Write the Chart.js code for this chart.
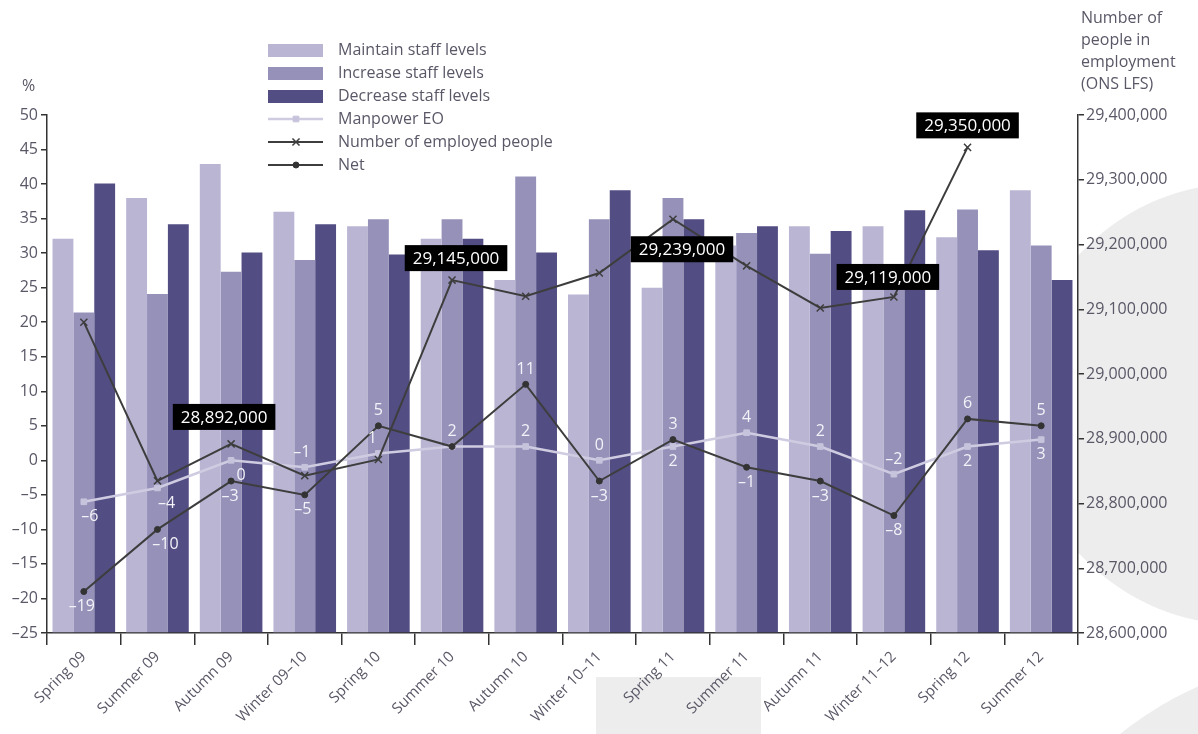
<!DOCTYPE html>
<html>
<head>
<meta charset="utf-8">
<script src="https://cdn.jsdelivr.net/npm/chart.js@4/dist/chart.umd.min.js"></script>
<style>
  html, body { margin: 0; padding: 0; background: #fff; }
  #wrap { width: 1198px; height: 734px; }
</style>
</head>
<body>
<div id="wrap"><canvas id="chart" width="1198" height="734"></canvas></div>
<script>
// survey seasons
const categories = ['Spring 09', 'Summer 09', 'Autumn 09', 'Winter 09–10', 'Spring 10', 'Summer 10', 'Autumn 10',
  'Winter 10–11', 'Spring 11', 'Summer 11', 'Autumn 11', 'Winter 11–12', 'Spring 12', 'Summer 12'];

// staffing intentions, % of employers
const maintain = [32.1, 38.0, 42.9, 36.0, 33.9, 32.1, 26.1, 24.0, 25.0, 31.1, 33.9, 33.9, 32.3, 39.1];
const increase = [21.4, 24.1, 27.3, 29.0, 34.9, 34.9, 41.1, 34.9, 38.0, 32.9, 29.9, 26.0, 36.3, 31.1];
const decrease = [40.1, 34.2, 30.1, 34.2, 29.8, 32.1, 30.1, 39.1, 34.9, 33.9, 33.2, 36.2, 30.4, 26.1];

// balances
const manpowerEO = [-6, -4, 0, -1, 1, 2, 2, 0, 2, 4, 2, -2, 2, 3];
const net = [-19, -10, -3, -5, 5, 2, 11, -3, 3, -1, -3, -8, 6, 5];

// ONS LFS, people in employment
const employed = [29080000, 28835000, 28892000, 28843000, 28868000, 29145000, 29120000,
  29156000, 29239000, 29167000, 29102000, 29119000, 29350000, null];

const leftTicks = { min: -25, max: 50, step: 5 };
const rightTicks = { min: 28600000, max: 29400000, step: 100000 };

// where the small value labels sit: 'a' above, 'b' below, '' none
const netLabelSide = ['b', 'b', 'b', 'b', 'a', 'a', 'a', 'b', 'a', 'b', 'b', 'b', 'a', 'a'];
const netLabelDx = [-2, 8, -1, -2, 0, 0, 0, 0, 0, 0, 0, 0, 0, 0];
const eoLabelSide = ['b', 'b', 'b', 'a', 'a', '', 'a', 'a', 'b', 'a', 'a', 'a', 'b', 'b'];
const eoLabelDx = [6, 9, 10, -3, -6, 0, 0, 0, 0, 0, 0, 0, 0, 0];

// black callout boxes on the employment line
const callouts = [
  { index: 2, dx: -7, dy: -27 },
  { index: 5, dx: 4, dy: -22 },
  { index: 8, dx: 9, dy: 30 },
  { index: 11, dx: -6, dy: -20 },
  { index: 12, dx: 0, dy: -22 }
];

const FONT = "'Open Sans', 'Noto Sans', sans-serif";
const TEXT = '#5b5767';
const AXIS = '#333333';
const dash = (v) => String(v).replace('-', '–');
const fmt = (v) => v.toLocaleString('en-US');

const decor = {
  id: 'decor',
  beforeDraw(chart) {
    const { ctx, chartArea } = chart;
    ctx.save();
    ctx.fillStyle = '#ffffff';
    ctx.fillRect(0, 0, chart.width, chart.height);
    ctx.fillStyle = '#ededed';
    ctx.fillRect(596, 677, 165, 57);
    ctx.beginPath();
    ctx.rect(chartArea.right, 0, chart.width - chartArea.right, chart.height);
    ctx.clip();
    ctx.beginPath();
    ctx.arc(1242, 404, 221, 0, Math.PI * 2);
    ctx.fill();
    ctx.beginPath();
    ctx.arc(1345, 1015, 360, 0, Math.PI * 2);
    ctx.fill();
    ctx.restore();
  },
  afterDatasetsDraw(chart) {
    const { ctx } = chart;
    ctx.save();
    ctx.font = '16px ' + FONT;
    ctx.textAlign = 'center';
    ctx.textBaseline = 'middle';
    ctx.fillStyle = '#f3f2f8';
    const small = (dsIndex, values, sides, dxs) => {
      const pts = chart.getDatasetMeta(dsIndex).data;
      values.forEach((v, i) => {
        if (!sides[i]) return;
        const p = pts[i];
        const dy = sides[i] === 'a' ? -15 : 15;
        ctx.fillText(dash(v), p.x + dxs[i], p.y + dy);
      });
    };
    small(0, manpowerEO, eoLabelSide, eoLabelDx);
    small(2, net, netLabelSide, netLabelDx);

    const pts = chart.getDatasetMeta(1).data;
    ctx.font = '17px ' + FONT;
    callouts.forEach((c) => {
      const p = pts[c.index];
      const txt = fmt(employed[c.index]);
      const w = ctx.measureText(txt).width + 16;
      const h = 26;
      const cx = p.x + c.dx, cy = p.y + c.dy;
      ctx.fillStyle = '#000000';
      ctx.fillRect(cx - w / 2, cy - h / 2, w, h);
      ctx.fillStyle = '#ffffff';
      ctx.fillText(txt, cx, cy + 1);
    });
    ctx.restore();
  },
  afterDraw(chart) {
    const { ctx } = chart;
    ctx.save();
    ctx.font = '16px ' + FONT;
    ctx.fillStyle = TEXT;
    ctx.textBaseline = 'middle';
    ctx.textAlign = 'left';
    ctx.fillText('%', 22, 86);
    ['Number of', 'people in', 'employment', '(ONS LFS)'].forEach((t, i) => {
      ctx.fillText(t, 1081, 18 + i * 22);
    });

    // legend: bars first, then the three lines
    const order = [3, 4, 5, 0, 1, 2];
    order.forEach((dsIndex, row) => {
      const ds = chart.data.datasets[dsIndex];
      const y = 50 + row * 23;
      if (ds.type === 'bar') {
        ctx.fillStyle = ds.backgroundColor;
        ctx.fillRect(268, y - 6, 55, 13);
      } else {
        ctx.strokeStyle = ds.borderColor;
        ctx.lineWidth = ds.borderWidth;
        ctx.beginPath();
        ctx.moveTo(268, y);
        ctx.lineTo(323, y);
        ctx.stroke();
        ctx.fillStyle = ds.pointBackgroundColor;
        ctx.strokeStyle = ds.pointBorderColor;
        ctx.lineWidth = ds.pointBorderWidth;
        Chart.helpers.drawPoint(ctx, {
          pointStyle: ds.pointStyle, radius: ds.pointRadius,
          borderWidth: ds.pointBorderWidth, rotation: 0
        }, 296, y);
      }
      ctx.fillStyle = TEXT;
      ctx.font = '16px ' + FONT;
      ctx.fillText(ds.label, 338, y);
    });
    ctx.restore();
  }
};

const barDefaults = { type: 'bar', yAxisID: 'y', base: -25, order: 2, barPercentage: 1, categoryPercentage: 0.85 };

new Chart(document.getElementById('chart'), {
  data: {
    labels: categories,
    datasets: [
      {
        type: 'line', label: 'Manpower EO', data: manpowerEO, yAxisID: 'y', order: 1,
        borderColor: '#cfcce2', borderWidth: 2.5, pointStyle: 'rect', pointRadius: 4,
        pointBackgroundColor: '#c6c3dc', pointBorderColor: '#c6c3dc', pointBorderWidth: 1
      },
      {
        type: 'line', label: 'Number of employed people', data: employed, yAxisID: 'y2', order: 0,
        borderColor: '#3d3d3d', borderWidth: 2, pointStyle: 'crossRot', pointRadius: 5,
        pointBackgroundColor: '#3d3d3d', pointBorderColor: '#3d3d3d', pointBorderWidth: 1.5
      },
      {
        type: 'line', label: 'Net', data: net, yAxisID: 'y', order: 0,
        borderColor: '#3d3d3d', borderWidth: 2, pointStyle: 'circle', pointRadius: 3,
        pointBackgroundColor: '#333333', pointBorderColor: '#333333', pointBorderWidth: 1
      },
      { ...barDefaults, label: 'Maintain staff levels', data: maintain, backgroundColor: '#b9b5d3' },
      { ...barDefaults, label: 'Increase staff levels', data: increase, backgroundColor: '#9591b9' },
      { ...barDefaults, label: 'Decrease staff levels', data: decrease, backgroundColor: '#524d83' }
    ]
  },
  options: {
    responsive: false,
    animation: false,
    layout: { padding: { top: 115, left: 0, right: 0, bottom: 0 } },
    plugins: { legend: { display: false }, tooltip: { enabled: false } },
    scales: {
      x: {
        offset: true,
        grid: { offset: true, drawOnChartArea: false, drawTicks: true, tickLength: 12, color: AXIS, lineWidth: 1.5 },
        border: { display: true, color: AXIS, width: 1.5 },
        ticks: { minRotation: 45, maxRotation: 45, padding: 3, color: TEXT, font: { family: FONT, size: 15 } },
        afterFit: (s) => { s.height = 101; }
      },
      y: {
        position: 'left',
        min: leftTicks.min, max: leftTicks.max,
        grid: { drawOnChartArea: false, tickLength: 6, color: AXIS, lineWidth: 1.5 },
        border: { display: true, color: AXIS, width: 1.5 },
        ticks: { stepSize: leftTicks.step, padding: 3, color: TEXT, font: { family: FONT, size: 16 }, callback: (v) => dash(v) },
        afterFit: (s) => { s.width = 47; }
      },
      y2: {
        position: 'right',
        min: rightTicks.min, max: rightTicks.max,
        grid: { drawOnChartArea: false, tickLength: 6, color: AXIS, lineWidth: 1.5 },
        border: { display: true, color: AXIS, width: 1.5 },
        ticks: { stepSize: rightTicks.step, padding: 2, color: TEXT, font: { family: FONT, size: 16 }, callback: (v) => fmt(v) },
        afterFit: (s) => { s.width = 120; }
      }
    }
  },
  plugins: [decor]
});
</script>
</body>
</html>
